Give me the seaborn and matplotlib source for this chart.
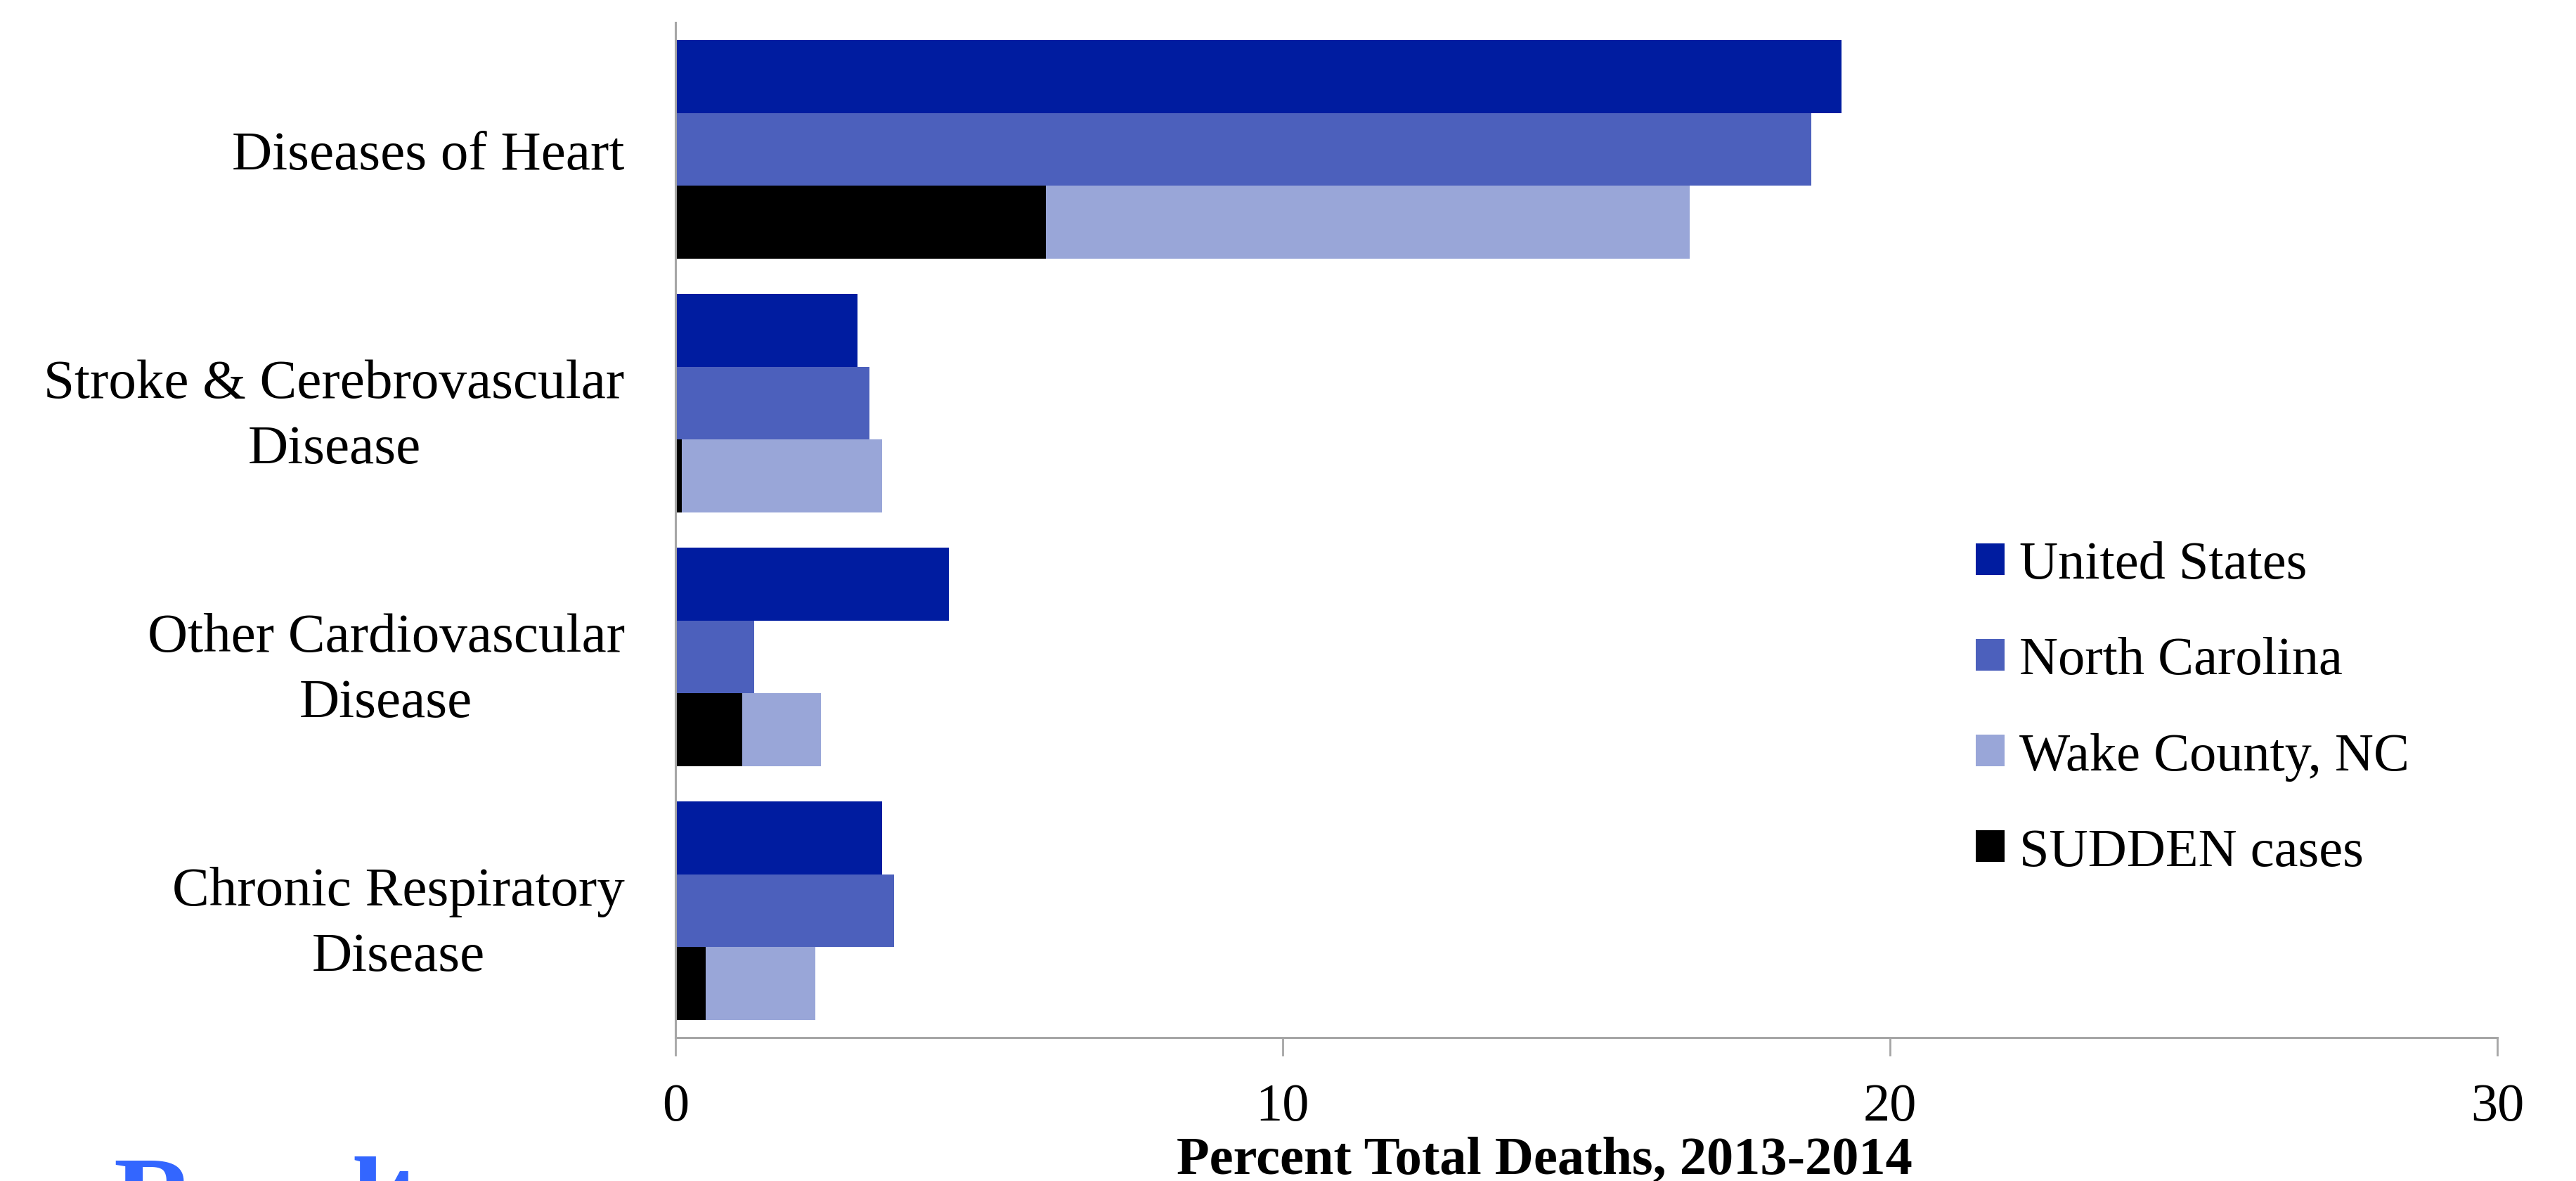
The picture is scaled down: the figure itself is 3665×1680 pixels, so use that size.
import matplotlib
matplotlib.use("Agg")
import matplotlib.pyplot as plt
from matplotlib.patches import Patch
import seaborn as sns
import pandas as pd

# Leading causes of cardiovascular / respiratory death, percent of total deaths
causes = [
    "Diseases of Heart",
    "Stroke & Cerebrovascular\nDisease",
    "Other Cardiovascular\nDisease",
    "Chronic Respiratory\nDisease",
]
us_pct = [19.2, 3.0, 4.5, 3.4]
nc_pct = [18.7, 3.2, 1.3, 3.6]
wake_pct = [16.7, 3.4, 2.4, 2.3]
sudden_pct = [6.1, 0.1, 1.1, 0.5]

regions = ["United States", "North Carolina", "Wake County, NC"]
region_colors = ["#001CA0", "#4C60BC", "#99A6D8"]
sudden_label = "SUDDEN cases"
sudden_color = "#000000"
x_ticks = [0, 10, 20, 30]
x_title = "Percent Total Deaths, 2013-2014"

df = pd.DataFrame({
    "cause": causes * 3,
    "region": [r for r in regions for _ in causes],
    "pct": us_pct + nc_pct + wake_pct,
})

sns.set_theme(style="white")
plt.rcParams["font.family"] = ["Liberation Serif", "DejaVu Serif"]
plt.rcParams["text.color"] = "black"
plt.rcParams["axes.labelcolor"] = "black"
plt.rcParams["xtick.labelcolor"] = "black"
plt.rcParams["ytick.labelcolor"] = "black"

fig = plt.figure(figsize=(36.65, 16.81), dpi=100)
ax = fig.add_axes([0.2622, 0.1214, 0.7072, 0.859])

sns.barplot(
    data=df, y="cause", x="pct", hue="region", order=causes,
    hue_order=regions, palette=region_colors, orient="h",
    width=0.86, dodge=True, gap=0, legend=False, ax=ax,
    saturation=1, edgecolor="none", linewidth=0,
)

# SUDDEN cases overlay the Wake County bar of each group
wake_bars = ax.containers[2]
for bar, val in zip(wake_bars, sudden_pct):
    ax.barh(bar.get_y() + bar.get_height() / 2, val,
            height=bar.get_height(), color=sudden_color, linewidth=0)

ax.set_xlim(0, 30)
ax.set_ylim(3.5, -0.5)
ax.set_xticks(x_ticks)
ax.set_xticklabels([str(t) for t in x_ticks], fontsize=55)
ax.tick_params(axis="x", which="both", bottom=True, length=19, width=2,
               color="#A6A6A6", pad=27)
ax.tick_params(axis="y", left=False, pad=46)
for lbl in ax.get_yticklabels():
    lbl.set_fontsize(57)
    lbl.set_multialignment("center")
    lbl.set_linespacing(1.4)

ax.set_ylabel("")
ax.set_xlabel(x_title, fontsize=55, fontweight="bold")
ax.xaxis.set_label_coords(0.477, -0.097)

sns.despine(ax=ax, top=True, right=True)
for side in ("left", "bottom"):
    ax.spines[side].set_color("#A6A6A6")
    ax.spines[side].set_linewidth(2.2)

handles = [Patch(facecolor=c, edgecolor="none") for c in region_colors]
handles.append(Patch(facecolor=sudden_color, edgecolor="none"))
labels = regions + [sudden_label]
fig.legend(handles, labels, loc="upper left", bbox_to_anchor=(0.7587, 0.56),
           frameon=False, fontsize=55, handlelength=0.53, handleheight=0.53,
           handletextpad=0.28, labelspacing=0.88, borderaxespad=0)

# Section heading running off the lower edge of the slide
fig.text(0.044, -0.045, "Results", color="#3366FF", fontsize=116,
         fontweight="bold", ha="left", va="baseline")

fig.savefig("out.png", dpi=100)
